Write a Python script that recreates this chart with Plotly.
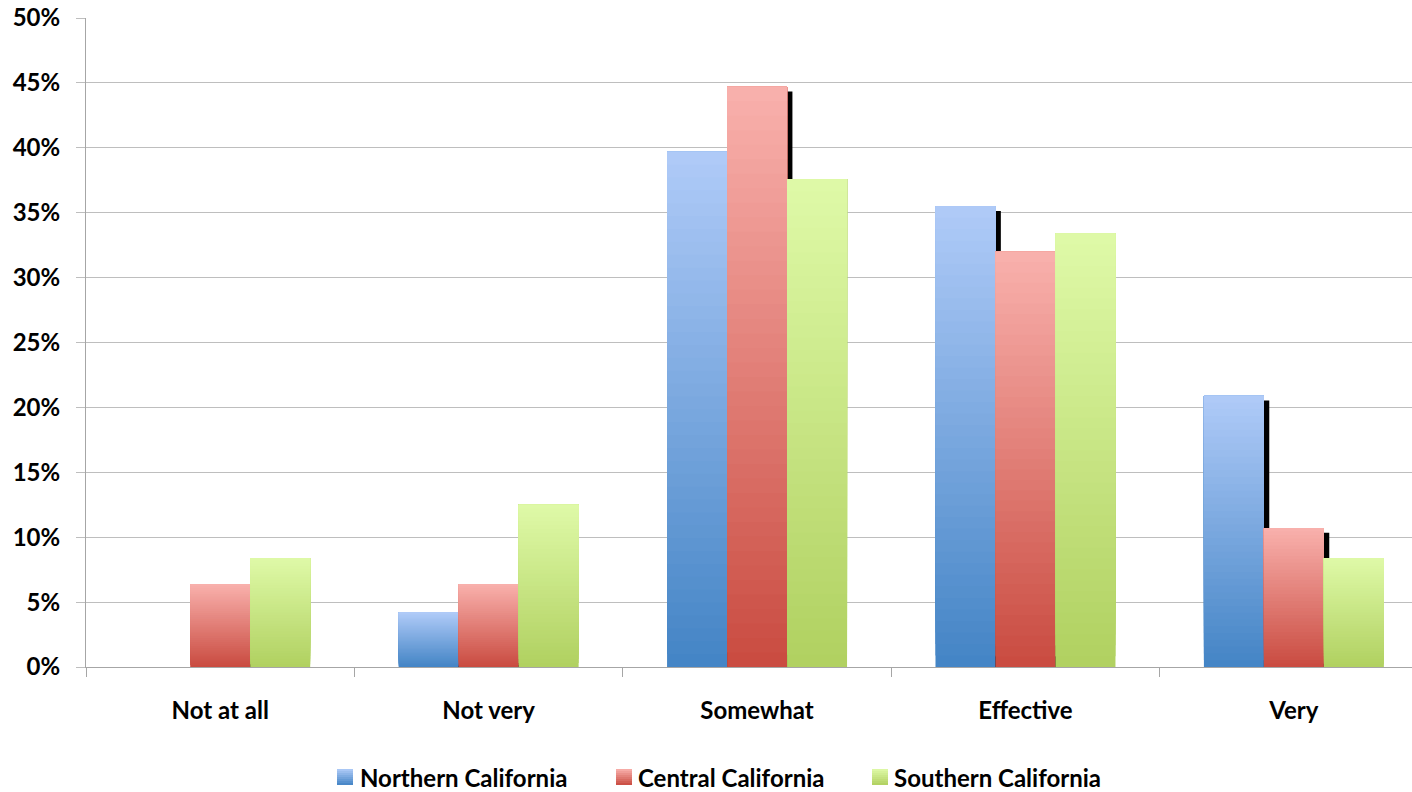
import plotly.graph_objects as go

categories = ["Not at all", "Not very", "Somewhat", "Effective", "Very"]
series_names = ["Northern California", "Central California", "Southern California"]
northern = [0.0, 4.2, 39.7, 35.5, 20.9]
central = [6.4, 6.4, 44.7, 32.0, 10.7]
southern = [8.4, 12.5, 37.6, 33.4, 8.4]
y_ticks = [0, 5, 10, 15, 20, 25, 30, 35, 40, 45, 50]

series_values = [northern, central, southern]
# gradient colours (bottom, top)
grad = [((0x43, 0x84, 0xC5), (0xB0, 0xCB, 0xF8)),
        ((0xC9, 0x4B, 0x40), (0xF9, 0xB1, 0xAD)),
        ((0xB0, 0xD0, 0x60), (0xDF, 0xFA, 0xA8))]

W = 0.2235          # bar width (category units)
offsets = [-1.5 * W, -0.5 * W, 0.5 * W]
SH_DX = 0.020       # shadow shift right
SH_DY = 0.36        # shadow shift down (in %)
NSEG = 40

OFF = 0  # page body margin removed via post_script
WIDTH, HEIGHT = 1412 - OFF, 792 - OFF
ML, MR, MT, MB = 86 - OFF, 0, 18 - OFF, 125
PW, PH = WIDTH - ML - MR, HEIGHT - MT - MB

FONT = dict(family="Lato, 'Open Sans', sans-serif", size=24, color="#000000", weight="bold")


def lerp(bot, top, t):
    return "rgb(%d,%d,%d)" % tuple(round(bot[c] + (top[c] - bot[c]) * t) for c in range(3))


def px_x(px):  # page px -> paper
    return (px - OFF - ML) / PW


def px_y(py):
    return (HEIGHT - MB - (py - OFF)) / PH


fig = go.Figure()

# shadows (only visible where the right neighbour is shorter)
for si in (0, 1):
    vals = series_values[si]
    fig.add_trace(go.Bar(
        x=categories, y=[max(v - SH_DY, 0) for v in vals],
        offset=offsets[si] + SH_DX, width=W,
        marker=dict(color="#000000", line=dict(width=0)),
        showlegend=False, hoverinfo="skip"))

# gradient bars: overlapping segments, each reaching the bar top
for si, vals in enumerate(series_values):
    bot, top = grad[si]
    for k in range(NSEG):
        t = (k + 0.5) / NSEG
        fig.add_trace(go.Bar(
            x=categories,
            base=[v * k / NSEG for v in vals],
            y=[v * (NSEG - k) / NSEG for v in vals],
            offset=offsets[si], width=W,
            marker=dict(color=lerp(bot, top, t), line=dict(width=0)),
            showlegend=False, hoverinfo="skip",
            name=series_names[si]))

# custom legend (gradient squares + labels)
leg_sq_x = [337, 616, 872]
leg_txt_x = [358, 636, 892]
leg_y = 777
SQ = 16
NS = 8
for si, name in enumerate(series_names):
    bot, top = grad[si]
    x0, x1 = px_x(leg_sq_x[si]), px_x(leg_sq_x[si] + SQ)
    for k in range(NS):
        py_bot = leg_y + SQ / 2 - SQ * k / NS
        py_top = leg_y - SQ / 2
        fig.add_shape(type="rect", xref="paper", yref="paper",
                      x0=x0, x1=x1, y0=px_y(py_bot), y1=px_y(py_top),
                      fillcolor=lerp(bot, top, (k + 0.5) / NS), line=dict(width=0),
                      layer="above")
    fig.add_annotation(text=name, xref="paper", yref="paper",
                       x=px_x(leg_txt_x[si]), y=px_y(leg_y),
                       xanchor="left", yanchor="middle", showarrow=False,
                       font=FONT)

fig.update_layout(
    barmode="overlay",
    width=WIDTH, height=HEIGHT,
    margin=dict(l=ML, r=MR, t=MT, b=MB),
    plot_bgcolor="white", paper_bgcolor="white",
    font=FONT,
    showlegend=False,
)
fig.update_xaxes(
    type="category", categoryorder="array", categoryarray=categories,
    range=[-0.5, 4.44], tickson="boundaries",
    ticks="outside", ticklen=9, tickcolor="#A6A6A6", tickwidth=1,
    showline=True, linecolor="#A6A6A6", linewidth=1,
    showgrid=False, ticklabelstandoff=22, tickfont=FONT, automargin=False)
fig.update_yaxes(
    range=[0, 50], tickvals=y_ticks, ticktext=[f"{v}%" for v in y_ticks],
    ticks="outside", ticklen=9, tickcolor="#BEBEBE", tickwidth=1,
    showline=True, linecolor="#A6A6A6", linewidth=1,
    showgrid=True, gridcolor="#BEBEBE", gridwidth=1,
    zeroline=False, ticklabelstandoff=11, tickfont=FONT, automargin=False,
    ticklabeloverflow="allow")

fig.write_html("out.html",
               config={"displayModeBar": False},
               post_script="document.body.style.margin='0';document.body.style.overflow='hidden';")
